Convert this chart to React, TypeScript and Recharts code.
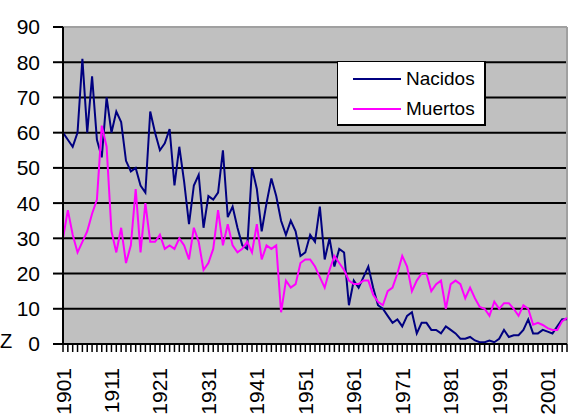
import { CartesianGrid, Line, LineChart, ReferenceLine, XAxis, YAxis } from "recharts";

const START_YEAR = 1901;

const NACIDOS = [
  60, 58, 56, 60, 81, 60, 76, 58, 53, 70,
  60, 66, 63, 52, 49, 50, 45, 43, 66, 60,
  55, 57, 61, 45, 56, 46, 34, 45, 48, 33,
  42, 41, 43, 55, 36, 39, 33, 28, 27, 50,
  44, 32, 40, 47, 42, 35, 31, 35, 32, 25,
  26, 31, 29, 39, 24, 30, 22, 27, 26, 11,
  18, 16, 19, 22, 16, 11, 10, 8, 6, 7,
  5, 8, 9, 3, 6, 6, 4, 4, 3, 5,
  4, 3, 1.5, 1.5, 2, 1, 0.5, 0.5, 1, 0.5,
  1.5, 4, 2, 2.5, 2.5, 4, 7, 3, 3, 4,
  3.5, 3, 5, 7, 7,
];

const MUERTOS = [
  30, 38, 31, 26, 29, 32, 37, 41, 62, 56,
  32, 26, 33, 23, 28, 44, 26, 40, 29, 29,
  31, 27, 28, 27, 30, 28, 24, 33, 29, 21,
  23, 27, 38, 28, 34, 28, 26, 27, 29, 26,
  34, 24, 28, 27, 28, 9, 18, 16, 17, 23,
  24, 24, 22, 19, 16, 21, 25, 23, 21, 18,
  17, 17, 18, 18, 14, 12, 11, 15, 16, 20,
  25, 22, 15, 18, 20, 20, 15, 17, 18, 10,
  17, 18, 17, 13, 16, 13, 10.5, 10, 8, 12,
  10, 11.6, 11.6, 10, 8, 11, 10, 5.5, 6, 5.4,
  4.5, 4, 4, 6.5, 7.4,
];

const YEARS = NACIDOS.map((_, i) => START_YEAR + i);
const Y_TICKS = [0, 10, 20, 30, 40, 50, 60, 70, 80, 90];

const SERIES = [
  { dataKey: "nacidos", label: "Nacidos", color: "#000080" },
  { dataKey: "muertos", label: "Muertos", color: "#FF00FF" },
];

const data = YEARS.map((year, i) => ({ year, nacidos: NACIDOS[i], muertos: MUERTOS[i] }));

const FONT = "'Liberation Sans', Arial, sans-serif";

function YearTick(props: any) {
  const { x, y, payload } = props;
  if ((payload.value - START_YEAR) % 10 !== 0) return null;
  return (
    <text
      x={x}
      y={y}
      transform={`rotate(-90, ${x}, ${y})`}
      textAnchor="end"
      dy="0.36em"
      fill="#000"
      fontSize={21}
      fontFamily={FONT}
    >
      {payload.value}
    </text>
  );
}

function LegendBox() {
  return (
    <div
      style={{
        position: "absolute",
        left: 337,
        top: 61,
        width: 149,
        height: 65,
        background: "#fff",
        borderTop: "1px solid #000",
        borderLeft: "1px solid #000",
        borderRight: "2px solid #000",
        borderBottom: "2px solid #000",
        fontFamily: FONT,
        fontSize: 19,
        color: "#000",
        boxSizing: "border-box",
        paddingTop: 2,
      }}
    >
      {SERIES.map((s) => (
        <div key={s.dataKey} style={{ display: "flex", alignItems: "center", height: 30 }}>
          <div style={{ marginLeft: 15, width: 48, height: 2, background: s.color }} />
          <span style={{ marginLeft: 5 }}>{s.label}</span>
        </div>
      ))}
    </div>
  );
}

export default function App() {
  return (
    <div style={{ position: "fixed", left: 0, top: 0, width: 569, height: 415, background: "#fff" }}>
      <LineChart width={569} height={415} data={data} margin={{ top: 27, right: 2, left: 0, bottom: 0 }}>
        <CartesianGrid fill="#C0C0C0" horizontal={false} vertical={false} />
        {Y_TICKS.slice(1, -1).map((v) => (
          <ReferenceLine key={v} y={v} stroke="#000" strokeWidth={2} />
        ))}
        <ReferenceLine y={90} stroke="#A0A0A0" strokeWidth={2} />
        <ReferenceLine x={2005} stroke="#A0A0A0" strokeWidth={2} />
        <XAxis
          dataKey="year"
          type="number"
          domain={[1901, 2005]}
          ticks={YEARS}
          interval={0}
          height={71}
          tickSize={8}
          tickMargin={16}
          tick={<YearTick />}
          axisLine={{ stroke: "#000", strokeWidth: 2 }}
          tickLine={{ stroke: "#000", strokeWidth: 1.5 }}
        />
        <YAxis
          domain={[0, 90]}
          ticks={Y_TICKS}
          interval={0}
          width={63}
          tickSize={10}
          tickMargin={13}
          axisLine={{ stroke: "#000", strokeWidth: 2 }}
          tickLine={{ stroke: "#000", strokeWidth: 2 }}
          tick={{ fill: "#000", fontSize: 21, fontFamily: FONT }}
        />
        {SERIES.map((s) => (
          <Line
            key={s.dataKey}
            type="linear"
            dataKey={s.dataKey}
            name={s.label}
            stroke={s.color}
            strokeWidth={2}
            dot={false}
            isAnimationActive={false}
          />
        ))}
      </LineChart>
      <LegendBox />
      <span
        style={{
          position: "absolute",
          left: 0,
          top: 331,
          fontFamily: FONT,
          fontSize: 20,
          lineHeight: "20px",
          color: "#000",
        }}
      >
        Z
      </span>
    </div>
  );
}
